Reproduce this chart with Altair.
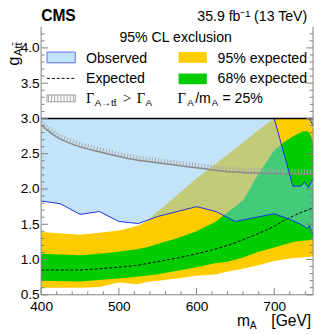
import altair as alt
import pandas as pd

# ---------------- data ----------------
m_band = [400, 450, 475, 500, 525, 535, 550, 575, 600, 625, 640, 660, 680, 700, 712, 725, 737, 743, 747, 750]
yellow_lo = [0.60, 0.60, 0.61, 0.675, 0.65, 0.68, 0.70, 0.73, 0.77, 0.79, 0.83, 0.87, 0.92, 0.98, 1.00, 1.02, 1.03, 1.04, 1.04, 1.05]
green_lo = [0.70, 0.69, 0.71, 0.73, 0.76, 0.77, 0.79, 0.84, 0.89, 0.95, 0.97, 1.03, 1.11, 1.17, 1.21, 1.25, 1.27, 1.27, 1.28, 1.28]
expected = [0.85, 0.85, 0.87, 0.89, 0.92, 0.94, 0.97, 1.02, 1.08, 1.15, 1.20, 1.28, 1.37, 1.47, 1.55, 1.62, 1.68, 1.70, 1.72, 1.73]
green_hi = [1.08, 1.06, 1.08, 1.11, 1.15, 1.17, 1.22, 1.30, 1.40, 1.54, 1.67, 1.84, 2.22, 2.55, 2.66, 2.75, 2.82, 2.82, 2.77, 2.65]
yellow_hi = [1.39, 1.35, 1.38, 1.41, 1.48, 1.54, 1.68, 1.91, 2.15, 2.36, 2.49, 2.66, 2.84, 3.0, 3.0, 3.0, 3.0, 3.0, 3.0, 3.0]

m_obs = [400, 425, 450, 475, 500, 525, 550, 575, 600, 625, 650, 700, 720, 724, 734, 737, 739, 742, 744, 745, 750]
obs_lo = [1.83, 1.79, 1.64, 1.68, 1.54, 1.51, 1.61, 1.68, 1.75, 1.68, 1.54, 1.65, 1.57, 1.55, 1.50, 1.48, 1.47, 1.44, 1.46, 1.48, 1.35]
obs_hi = [3.0, 3.0, 3.0, 3.0, 3.0, 3.0, 3.0, 3.0, 3.0, 3.0, 3.0, 3.0, 2.20, 2.04, 2.04, 2.07, 2.10, 2.05, 2.02, 2.04, 2.15]
m_obs2 = [745, 750]
obs2_lo = [3.0, 2.9]
obs2_hi = [3.0, 3.0]

m_gamma = [400, 418, 439, 481, 523, 565, 607, 648, 699, 750]
g_gamma = [2.91, 2.75, 2.64, 2.51, 2.41, 2.35, 2.29, 2.24, 2.22, 2.21]

x_major = [400, 500, 600, 700]
x_minor = [420, 440, 460, 480, 520, 540, 560, 580, 620, 640, 660, 680, 720, 740]
y_major = [0.5, 1.0, 1.5, 2.0, 2.5, 3.0, 3.5, 4.0]
y_minor = [0.6, 0.7, 0.8, 0.9, 1.1, 1.2, 1.3, 1.4, 1.6, 1.7, 1.8, 1.9, 2.1, 2.2, 2.3, 2.4,
           2.6, 2.7, 2.8, 2.9, 3.1, 3.2, 3.3, 3.4, 3.6, 3.7, 3.8, 3.9, 4.1, 4.2]

# ---------------- tables ----------------
bands = pd.DataFrame({"m": m_band, "ylo": yellow_lo, "glo": green_lo, "exp": expected,
                      "ghi": green_hi, "yhi": yellow_hi})
obs = pd.DataFrame({"m": m_obs, "lo": obs_lo, "hi": obs_hi})
obs_island = obs[obs["m"] >= 700]
obs2 = pd.DataFrame({"m": m_obs2, "lo": obs2_lo, "hi": obs2_hi})
gam = pd.DataFrame({"m": m_gamma, "g": g_gamma})
one = pd.DataFrame({"a": [0]})

W, H = 279, 275
FONT = "Liberation Sans"
AX = "#808080"
YELLOW = "#ffcc00"
GREEN = "#00cc00"
OBSFILL = "#87c9f1"
BLUE = "#1a2cf0"

xs = alt.Scale(domain=[400, 750], nice=False, zero=False)
ys = alt.Scale(domain=[0.5, 4.3], nice=False, zero=False)

xaxis = alt.Axis(values=x_major, format="d", labelFontSize=14, labelFont=FONT, labelColor="black",
                 ticks=False, domain=False, grid=False, labelPadding=5, labelFlush=False, title=None)
yaxis = alt.Axis(values=y_major, format=".1f", labelFontSize=14, labelFont=FONT, labelColor="black",
                 ticks=False, domain=False, grid=False, labelPadding=2, title=None)


def X(f):
    return alt.X(f, type="quantitative", scale=xs, axis=xaxis)


def Y(f):
    return alt.Y(f, type="quantitative", scale=ys, axis=yaxis)


yellow = alt.Chart(bands).mark_area(color=YELLOW, clip=True).encode(x=X("m"), y=Y("ylo"), y2="yhi")
green = alt.Chart(bands).mark_area(color=GREEN, clip=True).encode(x=X("m"), y=Y("glo"), y2="ghi")
obs_area = alt.Chart(obs).mark_area(color=OBSFILL, opacity=0.5, clip=True).encode(x=X("m"), y=Y("lo"), y2="hi")
obs2_area = alt.Chart(obs2).mark_area(color=OBSFILL, opacity=0.5, clip=True).encode(x=X("m"), y=Y("lo"), y2="hi")
exp_line = alt.Chart(bands).mark_line(color="black", strokeWidth=1, strokeDash=[3, 2], clip=True).encode(
    x=X("m"), y=Y("exp"))
gam_hatch = alt.Chart(gam).mark_line(color="#a8a8a8", strokeWidth=5, strokeDash=[1, 2.2], yOffset=-2.5,
                                     interpolate="monotone", clip=True).encode(x=X("m"), y=Y("g"))
gam_line = alt.Chart(gam).mark_line(color="#8a8a8a", strokeWidth=1.5, interpolate="monotone", clip=True).encode(
    x=X("m"), y=Y("g"))
obs_line = alt.Chart(obs).mark_line(color=BLUE, strokeWidth=1, clip=True).encode(x=X("m"), y=Y("lo"))
isl_line = alt.Chart(obs_island).mark_line(color=BLUE, strokeWidth=1, clip=True).encode(x=X("m"), y=Y("hi"))
obs2_line = alt.Chart(obs2).mark_line(color=BLUE, strokeWidth=1, clip=True).encode(x=X("m"), y=Y("lo"))

box_line = alt.Chart(pd.DataFrame({"v": [3.0]})).mark_rule(color="black", strokeWidth=1.5).encode(
    x=alt.value(0), x2=alt.value(W), y=Y("v"))


def rule(x1, x2, y1, y2, color=AX, w=1, dash=None):
    kw = dict(color=color, strokeWidth=w)
    if dash:
        kw["strokeDash"] = dash
    return alt.Chart(one).mark_rule(**kw).encode(x=alt.value(x1), x2=alt.value(x2), y=alt.value(y1), y2=alt.value(y2))


def rect(x1, x2, y1, y2, fill, stroke=None, opacity=1.0):
    kw = dict(fill=fill, fillOpacity=opacity)
    if stroke:
        kw["stroke"] = stroke
        kw["strokeWidth"] = 1
    return alt.Chart(one).mark_rect(**kw).encode(x=alt.value(x1), x2=alt.value(x2), y=alt.value(y1), y2=alt.value(y2))


def txt(s, x, y, size=14, font=FONT, weight="normal", align="left", angle=None):
    kw = dict(text=s, fontSize=size, font=font, fontWeight=weight, align=align, baseline="alphabetic", color="black")
    if angle is not None:
        kw["angle"] = angle
    return alt.Chart(one).mark_text(**kw).encode(x=alt.value(x), y=alt.value(y))


# frame and inward ticks
frame = [rule(0, 0, 0, H), rule(W, W, 0, H), rule(0, W, H, H)]
xt_major = alt.Chart(pd.DataFrame({"v": x_major})).mark_rule(color=AX).encode(
    x=X("v"), y=alt.value(H), y2=alt.value(H - 7))
xt_minor = alt.Chart(pd.DataFrame({"v": x_minor})).mark_rule(color=AX).encode(
    x=X("v"), y=alt.value(H), y2=alt.value(H - 3.5))
ytl_major = alt.Chart(pd.DataFrame({"v": y_major})).mark_rule(color=AX).encode(
    y=Y("v"), x=alt.value(0), x2=alt.value(7))
ytl_minor = alt.Chart(pd.DataFrame({"v": y_minor})).mark_rule(color=AX).encode(
    y=Y("v"), x=alt.value(0), x2=alt.value(3.5))
ytr_major = alt.Chart(pd.DataFrame({"v": y_major})).mark_rule(color=AX).encode(
    y=Y("v"), x=alt.value(W), x2=alt.value(W - 7))
ytr_minor = alt.Chart(pd.DataFrame({"v": y_minor})).mark_rule(color=AX).encode(
    y=Y("v"), x=alt.value(W), x2=alt.value(W - 3.5))

# legend
legend = [
    txt("95% CL exclusion", 138, 16, 14.5, align="center"),
    rect(6, 35, 26, 37, OBSFILL, stroke="#5a6cf0", opacity=0.5),
    txt("Observed", 46, 37, 14.5),
    rect(141, 170, 26, 37, YELLOW),
    txt("95% expected", 181, 37, 14.5),
    rule(6, 35, 53, 53, color="black", w=1, dash=[3, 2]),
    txt("Expected", 46, 58, 14.5),
    rect(141, 170, 48, 59, GREEN),
    txt("68% expected", 181, 58, 14.5),
    rule(7, 34, 73.5, 73.5, color="#a8a8a8", w=7, dash=[1, 2.2]),
    rect(6, 35, 70, 77, "white", stroke="#9a9a9a", opacity=0.0),
    txt("Γ", 46, 78, 15, font="Liberation Serif"),
    txt("A→tt̄", 55, 81, 10),
    txt(">", 84, 78, 15, font="Liberation Serif"),
    txt("Γ", 98, 78, 15, font="Liberation Serif"),
    txt("A", 107, 81, 10),
    txt("Γ", 140, 78, 15, font="Liberation Serif"),
    txt("A", 150, 81, 10),
    txt("/m", 158, 78, 14.5),
    txt("A", 175, 81, 10),
    txt("= 25%", 186, 78, 14.5),
]

titles = [
    txt("CMS", 0, -6, 16, weight="bold"),
    txt("35.9 fb⁻¹ (13 TeV)", 273, -6, 14.5, align="right"),
    txt("[GeV]", 277, 307, 16, align="right"),
    txt("m", 201, 307, 16),
    txt("A", 214, 310, 10.5),
    txt("g", -23, 40, 17, angle=270),
    txt("Att̄", -20, 30, 11.5, angle=270),
]

chart = alt.layer(
    yellow, green, obs_area, obs2_area, exp_line, gam_hatch, gam_line,
    obs_line, isl_line, obs2_line, box_line,
    *frame, xt_major, xt_minor, ytl_major, ytl_minor, ytr_major, ytr_minor,
    *legend, *titles
).properties(
    width=W, height=H,
    autosize=alt.AutoSizeParams(type="none"),
    padding={"left": 34, "top": 15, "right": 3, "bottom": 36},
).configure_view(stroke=None)

chart.save("out.html", embed_options={"renderer": "svg", "actions": False})
